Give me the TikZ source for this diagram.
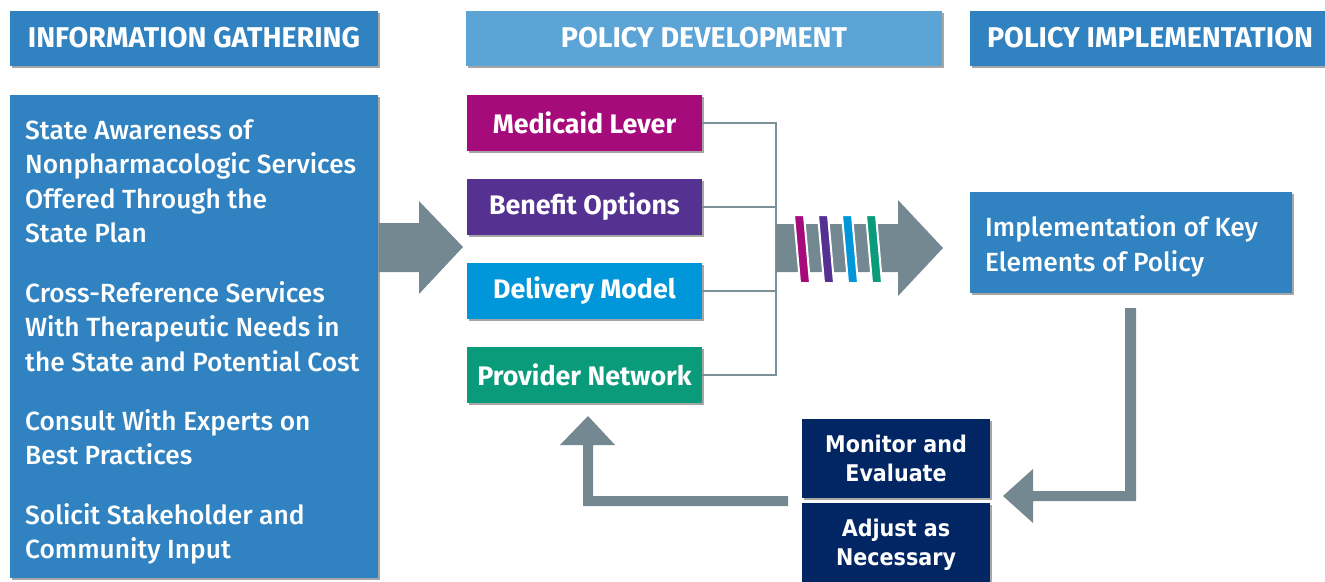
\documentclass[tikz,border=0pt]{standalone}
\usepackage{fontspec}
\setmainfont{Fira Sans}
\newfontfamily\fm{Fira Sans Medium}
\newfontfamily\dv{DejaVu Sans Condensed}
\usetikzlibrary{shadows,calc}
\definecolor{hblue}{HTML}{3182C1}
\definecolor{lblue}{HTML}{5CA3D6}
\definecolor{cmag}{HTML}{A50B7B}
\definecolor{cpur}{HTML}{553191}
\definecolor{cblu}{HTML}{0096DA}
\definecolor{cgrn}{HTML}{0A9B7B}
\definecolor{agray}{HTML}{748891}
\definecolor{lgray}{HTML}{7D9098}
\definecolor{navy}{HTML}{022663}
\begin{document}
\begin{tikzpicture}[x=1pt,y=-1pt,
  box/.style={rectangle, inner sep=0pt, text=white,
    drop shadow={shadow xshift=2pt, shadow yshift=-2pt, opacity=0.35, fill=black}},
  hdr/.style={box, minimum height=55pt, font=\bfseries\fontsize{28.6}{30}\selectfont},
  lever/.style={box, minimum width=235pt, minimum height=56pt, font=\bfseries\fontsize{26.8}{28}\selectfont},
  lt/.style={inner sep=0pt, align=left, text=white, font=\fm\fontsize{26.3}{34.5}\selectfont},
  nv/.style={box, fill=navy, minimum width=188pt, minimum height=79pt},
  nvt/.style={inner sep=0pt, align=center, text=white, font=\dv\bfseries\fontsize{23}{29}\selectfont},
  conn/.style={draw=lgray, line width=2pt},
  barrow/.style={fill=agray},
  stripe/.style={draw=white, line width=2pt}
]
\useasboundingbox (0,0) rectangle (1325,581);
% headers
\node[hdr, fill=hblue, minimum width=368pt] (h1) at (194,38) {INFORMATION GATHERING};
\node[hdr, fill=lblue, minimum width=476pt] (h2) at (704,38) {POLICY DEVELOPMENT};
\node[hdr, fill=hblue, minimum width=360pt] (h3) at (1150,38) {POLICY IMPLEMENTATION};
% left box
\node[box, fill=hblue, minimum width=368pt, minimum height=483pt, anchor=north west] (info) at (10,95) {};
\node[lt, anchor=north west] (g1) at (25,119) {State Awareness of\\Nonpharmacologic Services\\Offered Through the\\State Plan};
\node[lt, anchor=north west] (g2) at (25,281) {Cross-Reference Services\\With Therapeutic Needs in\\the State and Potential Cost};
\node[lt, anchor=north west] (g3) at (25,409) {Consult With Experts on\\Best Practices};
\node[lt, anchor=north west] (g4) at (25,503) {Solicit Stakeholder and\\Community Input};
% arrow 1
\fill[barrow] (info.east |- 0,223) -- (419,223) -- (419,201) -- (463,247) -- (419,294) -- (419,272) -- (info.east |- 0,272) -- cycle;
% levers
\node[lever, fill=cmag] (med) at (584.5,123) {Medicaid Lever};
\node[lever, fill=cpur] (ben) at (584.5,207) {Benefit Options};
\node[lever, fill=cblu] (del) at (584.5,291) {Delivery Model};
\node[lever, fill=cgrn] (prov) at (584.5,375) {Provider Network};
\coordinate (bx) at (776,0);
\draw[conn] (med.east) -- (med.east -| bx) -- (prov.east -| bx) -- (prov.east);
\draw[conn] (ben.east) -- (ben.east -| bx);
\draw[conn] (del.east) -- (del.east -| bx);
% big arrow
\fill[barrow] (776,224) -- (898,224) -- (898,200) -- (943,248) -- (898,296) -- (898,272) -- (776,272) -- cycle;
\foreach \dx/\c in {0/cmag,24/cpur,48/cblu,72/cgrn}{
  \filldraw[stripe, fill=\c] (794+\dx,215) -- (804+\dx,215) -- (810+\dx,283) -- (800+\dx,283) -- cycle;
}
% implementation
\node[box, fill=hblue, minimum width=322pt, minimum height=101pt] (impl) at (1131,242.5) {};
\node[lt, anchor=west] (implt) at (985,246.5) {Implementation of Key\\Elements of Policy};
% monitor / adjust
\node[nv] (mon) at (896,458) {};
\node[nvt] (mont) at (896,458.5) {Monitor and\\Evaluate};
\node[nv] (adj) at (896,542) {};
\node[nvt] (adjt) at (896,544.5) {Adjust as\\Necessary};
% feedback arrow right
\fill[barrow] (1125,308) -- (1136,308) -- (1136,501) -- (1033,501) -- (1033,523) -- (1003,496) -- (1033,469) -- (1033,491) -- (1125,491) -- cycle;
% return arrow left
\fill[barrow] (788,496) -- (788,506) -- (583,506) -- (583,445) -- (560,445) -- (588,416) -- (615,445) -- (593,445) -- (593,496) -- cycle;
\end{tikzpicture}
\end{document}
